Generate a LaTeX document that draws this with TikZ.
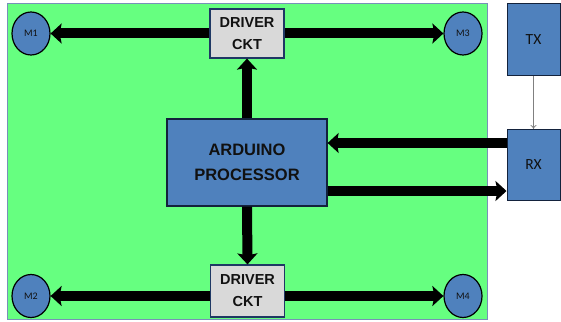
\documentclass[tikz,border=0pt]{standalone}
\usepackage{fontspec}
\setmainfont{Liberation Sans}
\newfontfamily\calib{Carlito}
\usetikzlibrary{arrows.meta,calc,shapes.geometric}
\definecolor{bggreen}{HTML}{66FF80}
\definecolor{boxblue}{HTML}{4F81BD}
\definecolor{navy}{HTML}{1F3864}
\definecolor{framec}{HTML}{7890B8}
\definecolor{drvgray}{HTML}{D9D9D9}
\definecolor{txtc}{HTML}{111111}
\begin{document}
\begin{tikzpicture}[x=1pt,y=-1pt,
  bluebox/.style={draw=navy!60!black,fill=boxblue,line width=1pt,inner sep=0pt,align=center,text=txtc},
  drvbox/.style={draw=navy,fill=drvgray,line width=1.2pt,inner sep=0pt,align=center,text=txtc,
     font=\fontsize{14.5}{22}\selectfont\bfseries, minimum width=74pt},
  motor/.style={ellipse,draw=black,fill=boxblue,line width=1.2pt,inner sep=0pt,text=txtc,
     minimum width=38pt,minimum height=43pt,font=\calib\fontsize{10}{11}\selectfont},
  bigarr/.style={line width=10pt,-{Stealth[length=11pt,width=20pt,inset=2pt]}},
  thinarr/.style={draw=gray,line width=0.8pt,-{To[length=4pt,width=6pt]}}]
\useasboundingbox (0,0) rectangle (561,321);
\fill[bggreen,draw=framec,line width=1pt] (7,3.5) rectangle (487.5,319);
% nodes
\node[drvbox,minimum height=49pt] (drv1) at (247,33.5) {DRIVER\\CKT};
\node[drvbox,minimum height=52pt] (drv2) at (247.5,291) {DRIVER\\CKT};
\node[bluebox,minimum width=160pt,minimum height=87pt,line width=1.3pt,
   font=\fontsize{16.5}{25}\selectfont\bfseries] (ard) at (247,162.5) {ARDUINO\\PROCESSOR};
\node[bluebox,minimum width=53pt,minimum height=72pt,font=\calib\fontsize{15.5}{18}\selectfont] (tx) at (533.5,39.5) {TX};
\node[bluebox,minimum width=53pt,minimum height=71pt,font=\calib\fontsize{15.5}{18}\selectfont] (rx) at (533.5,165) {RX};
\node[motor] (m1) at (31,33.5) {M1};
\node[motor] (m3) at (463,33.5) {M3};
\node[motor] (m2) at (31,296) {M2};
\node[motor] (m4) at (463,296) {M4};
% helper coordinates
\coordinate (d2l) at (drv2.west |- m2.east);
\coordinate (d2r) at (drv2.east |- m4.west);
\coordinate (rxin) at ([yshift=22pt]rx.west);
\coordinate (ardin) at (rxin -| ard.east);
\coordinate (rxout) at ([yshift=-26pt]rx.west);
\coordinate (ardout) at (rxout -| ard.east);
% connectors
\draw[bigarr] (drv1.west) -- (m1.east);
\draw[bigarr] (drv1.east) -- (m3.west);
\draw[bigarr] (d2l) -- (m2.east);
\draw[bigarr] (d2r) -- (m4.west);
\draw[bigarr] (ard.north) -- (drv1.south);
\draw[bigarr] (ard.south) -- (drv2.north);
\draw[bigarr] (rxin) -- (ardin);
\draw[bigarr] (ardout) -- (rxout);
\draw[thinarr] (tx.south) -- (rx.north);
\end{tikzpicture}
\end{document}
